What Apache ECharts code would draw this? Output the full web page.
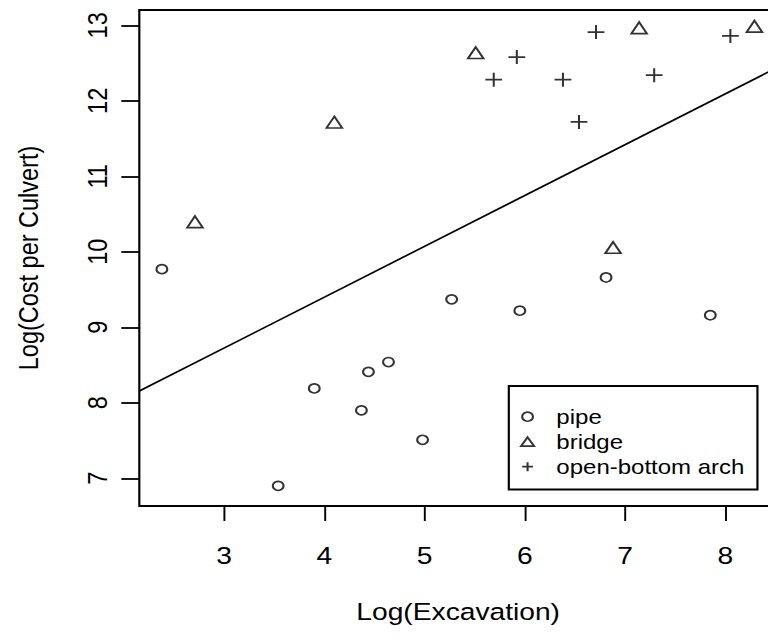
<!DOCTYPE html>
<html><head><meta charset="utf-8">
<script src="https://cdn.jsdelivr.net/npm/echarts@6/dist/echarts.min.js"></script>
<style>
html,body{margin:0;padding:0;background:#fff;overflow:hidden;}
#wrap{width:768px;height:640px;overflow:hidden;position:relative;}
#chart{width:640px;height:640px;transform:scaleX(1.2);transform-origin:0 0;}
</style></head><body>
<div id="wrap"><div id="chart"></div></div>
<script>
// Data
const pipeX = [2.38, 3.90, 3.54, 4.37, 4.44, 4.64, 4.98, 5.27, 5.95, 6.81, 7.85];
const pipeY = [9.77, 8.19, 6.90, 7.90, 8.41, 8.54, 7.51, 9.37, 9.22, 9.66, 9.16];
const bridgeX = [2.71, 4.10, 5.51, 6.88, 7.14, 8.29];
const bridgeY = [10.37, 11.69, 12.61, 10.03, 12.94, 12.96];
const archX = [5.69, 5.92, 6.38, 6.54, 6.71, 7.29, 8.05];
const archY = [12.28, 12.58, 12.28, 11.72, 12.91, 12.34, 12.86];
const fitX = [2.155, 8.515];
const fitY = [8.156, 12.44];
const xTicks = [3, 4, 5, 6, 7, 8];
const yTicks = [7, 8, 9, 10, 11, 12, 13];
const seriesNames = ['pipe', 'bridge', 'open-bottom arch'];
const xTitle = 'Log(Excavation)';
const yTitle = 'Log(Cost per Culvert)';

const zip = (xs, ys) => xs.map((x, i) => [x, ys[i]]);
const FONT = 'Liberation Sans, Arial, Helvetica, sans-serif';
const PLUS = 'path://M0,-1L0,1M-1,0L1,0';
const hollow = { color: 'transparent', borderColor: '#000', borderWidth: 1.7 };

const chart = echarts.init(document.getElementById('chart'), null, { renderer: 'svg' });
chart.setOption({
  animation: false,
  backgroundColor: '#fff',
  grid: {
    left: 116.1, top: 10, right: -7.5, bottom: 134,
    show: true, borderColor: '#000', borderWidth: 1.8, backgroundColor: 'transparent',
    outerBoundsMode: 'none'
  },
  xAxis: {
    type: 'value', min: 2.155, max: 8.515,
    axisLine: { show: false },
    splitLine: { show: false },
    axisTick: { show: true, customValues: xTicks, length: 15, lineStyle: { color: '#000', width: 1.6 } },
    axisLabel: { customValues: xTicks, margin: 38, fontSize: 23.5, fontFamily: FONT, color: '#000' },
    name: xTitle, nameLocation: 'middle', nameGap: 94,
    nameTextStyle: { fontSize: 23.5, fontFamily: FONT, color: '#000' }
  },
  yAxis: {
    type: 'value', min: 6.633, max: 13.203,
    axisLine: { show: false },
    splitLine: { show: false },
    axisTick: { show: true, customValues: yTicks, length: 15, lineStyle: { color: '#000', width: 1.8 } },
    axisLabel: { customValues: yTicks, rotate: 90, margin: 23, fontSize: 23.5, fontFamily: FONT, color: '#000' },
    name: yTitle, nameLocation: 'middle', nameGap: 81, nameRotate: 90,
    nameTextStyle: { fontSize: 23.5, fontFamily: FONT, color: '#000' }
  },
  legend: {
    orient: 'vertical', left: 424, top: 386,
    padding: [20.7, 10.8, 12.8, 9.3],
    borderColor: '#000', borderWidth: 1.8, borderRadius: 0,
    itemWidth: 11, itemHeight: 9, itemGap: 5,
    selectedMode: false,
    textStyle: { fontSize: 20, lineHeight: 20, fontFamily: FONT, color: '#000', padding: [0, 0, 0, 13.5] },
    data: [
      { name: seriesNames[0], icon: 'circle', itemStyle: hollow },
      { name: seriesNames[1], icon: 'triangle', itemStyle: hollow },
      { name: seriesNames[2], icon: PLUS, itemStyle: hollow }
    ]
  },
  series: [
    {
      type: 'line', data: zip(fitX, fitY), symbol: 'none', silent: true,
      lineStyle: { color: '#000', width: 1.6 }, z: 1
    },
    {
      name: seriesNames[0], type: 'scatter', data: zip(pipeX, pipeY),
      symbol: 'circle', symbolSize: 9, itemStyle: hollow, silent: true, z: 3
    },
    {
      name: seriesNames[1], type: 'scatter', data: zip(bridgeX, bridgeY),
      symbol: 'triangle', symbolSize: [13, 11.5], symbolOffset: [0, -2], itemStyle: hollow, silent: true, z: 3
    },
    {
      name: seriesNames[2], type: 'scatter', data: zip(archX, archY),
      symbol: PLUS, symbolSize: 14, itemStyle: hollow, silent: true, z: 3
    }
  ]
});
</script>
</body></html>
